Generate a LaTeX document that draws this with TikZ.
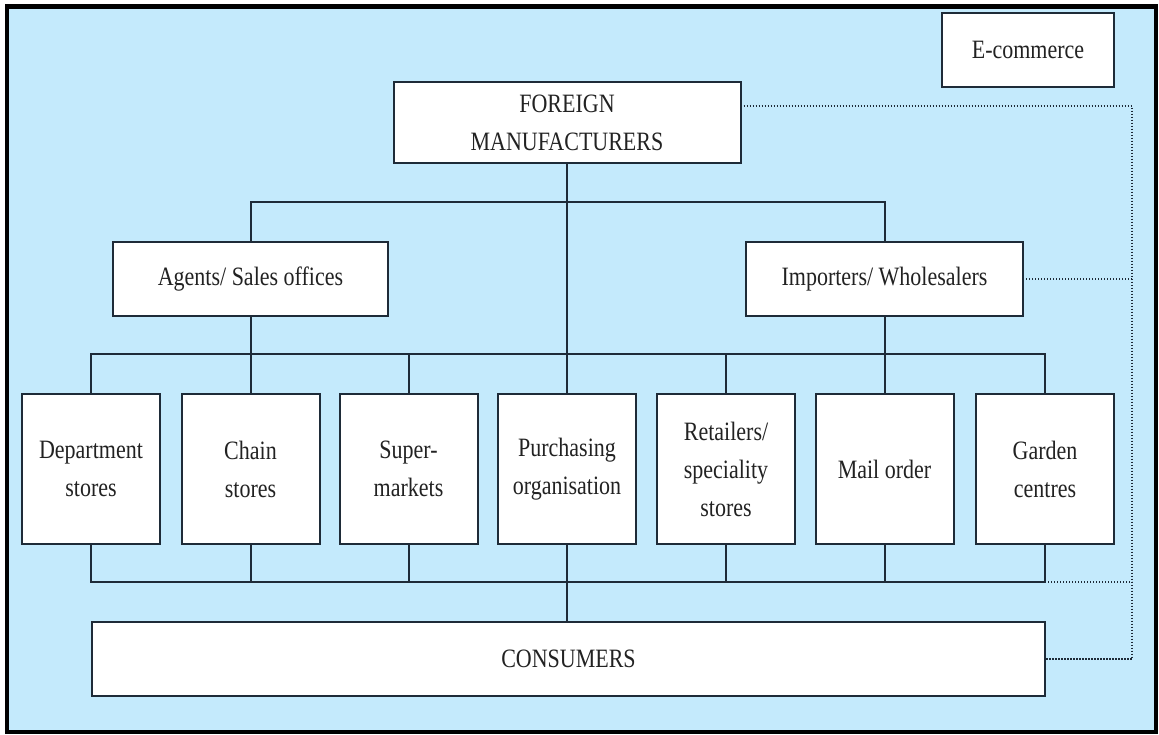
\documentclass[tikz,border=0pt]{standalone}
\usepackage{fontspec}
\setmainfont{Liberation Serif}[FakeStretch=0.83]
\definecolor{bgblue}{HTML}{C4EAFC}
\definecolor{edge}{HTML}{1E2B38}
\definecolor{txt}{HTML}{222222}
\begin{document}
\begin{tikzpicture}[x=1pt,y=-1pt,
  box/.style={draw=edge,fill=white,line width=2pt,rectangle,outer sep=0pt,inner sep=2pt,
    align=center,text=txt,font=\fontsize{26.5pt}{38pt}\selectfont},
  conn/.style={draw=edge,line width=2pt},
  dots/.style={draw=edge,line width=1.8pt,dash pattern=on 1.4pt off 1.6pt}]
\useasboundingbox (0,0) rectangle (1159,734);
\fill[white] (0,0) rectangle (1159,734);
\draw[fill=bgblue,draw=black,line width=4.5pt] (7,6.5) rectangle (1156,732);
% top level
\node[box,minimum width=347pt,minimum height=81pt] (fm) at (567,122.5) {FOREIGN\\MANUFACTURERS};
\node[box,minimum width=172pt,minimum height=74pt] (ecom) at (1028,50) {E-commerce};
\node[box,minimum width=275pt,minimum height=74pt] (agents) at (250.5,279) {Agents/ Sales offices};
\node[box,minimum width=277pt,minimum height=74pt] (imp) at (884.5,279) {Importers/ Wholesalers};
% outlets
\node[box,minimum width=138pt,minimum height=150pt] (dept) at (91,469) {Department\\stores};
\node[box,minimum width=138pt,minimum height=150pt] (chain) at (250.5,469) {Chain\\stores};
\node[box,minimum width=138pt,minimum height=150pt] (super) at (408.5,469) {Super-\\markets};
\node[box,minimum width=138pt,minimum height=150pt] (purch) at (567,469) {Purchasing\\organisation};
\node[box,minimum width=138pt,minimum height=150pt] (retail) at (726,469) {Retailers/\\speciality\\stores};
\node[box,minimum width=138pt,minimum height=150pt] (mail) at (884.5,469) {Mail order};
\node[box,minimum width=138pt,minimum height=150pt] (garden) at (1045,469) {Garden\\centres};
\node[box,minimum width=953pt,minimum height=74pt] (cons) at (568.5,659) {CONSUMERS};
% bus coordinates
\coordinate (busA) at (0,202);
\coordinate (busM) at (0,354);
\coordinate (busB) at (0,582);
\coordinate (rail) at (1132,0);
% manufacturers to intermediaries
\draw[conn] (fm.south) -- (fm.south |- purch.north);
\draw[conn] (agents.north) -- (agents.north |- busA) -- (imp.north |- busA) -- (imp.north);
% intermediaries to outlets
\draw[conn] (agents.south) -- (agents.south |- busM);
\draw[conn] (imp.south) -- (imp.south |- busM);
\draw[conn] (dept.north) -- (dept.north |- busM) -- (garden.north |- busM) -- (garden.north);
\draw[conn] (chain.north) -- (chain.north |- busM);
\draw[conn] (super.north) -- (super.north |- busM);
\draw[conn] (retail.north) -- (retail.north |- busM);
\draw[conn] (mail.north) -- (mail.north |- busM);
% outlets to consumers
\draw[conn] (dept.south) -- (dept.south |- busB) -- (garden.south |- busB) -- (garden.south);
\draw[conn] (chain.south) -- (chain.south |- busB);
\draw[conn] (super.south) -- (super.south |- busB);
\draw[conn] (retail.south) -- (retail.south |- busB);
\draw[conn] (mail.south) -- (mail.south |- busB);
\draw[conn] (purch.south) -- (purch.south |- cons.north);
% e-commerce dotted links
\coordinate (fmdot) at ([yshift=16.5pt]fm.east);
\draw[dots] (fmdot) -- (fmdot -| rail) -- (cons.east -| rail) -- (cons.east);
\draw[dots] (imp.east) -- (imp.east -| rail);
\draw[dots] (garden.south |- busB) -- (busB -| rail);
\end{tikzpicture}
\end{document}
